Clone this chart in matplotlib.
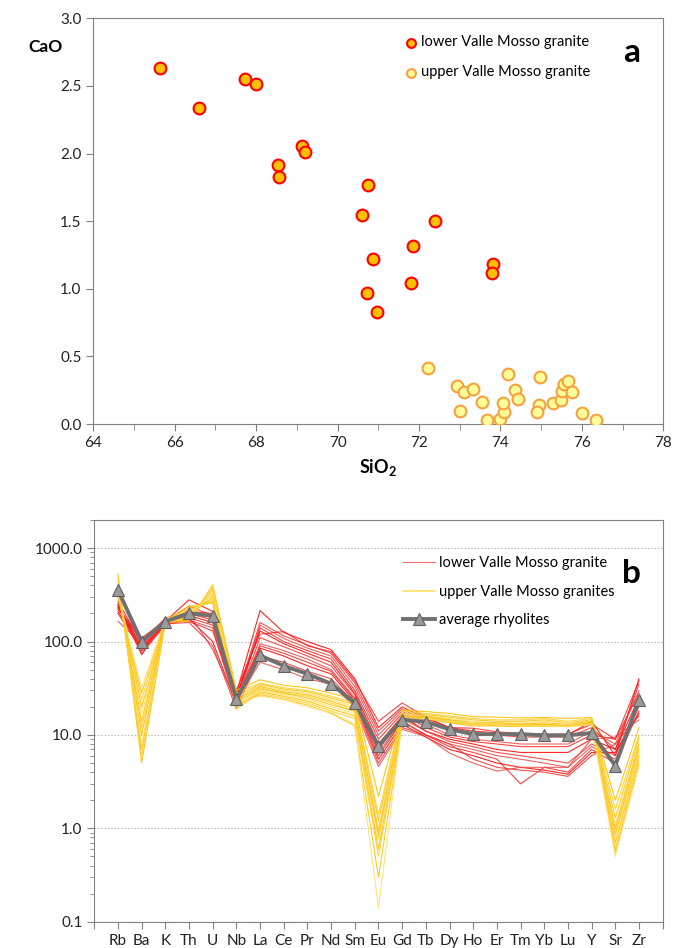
import numpy as np
import matplotlib
matplotlib.use('Agg')
import matplotlib.pyplot as plt
from matplotlib.ticker import MultipleLocator, LogLocator, FixedLocator, NullFormatter

plt.rcParams['font.family'] = ['Lato', 'DejaVu Sans']
plt.rcParams['mathtext.fontset'] = 'custom'
plt.rcParams['mathtext.rm'] = 'Lato'
plt.rcParams['mathtext.bf'] = 'Lato:bold'

# --- panel a: CaO vs SiO2 ---
lower_sio2 = [65.63, 66.60, 67.73, 67.99, 68.54, 68.55, 69.12, 69.20, 70.74, 70.59,
              72.40, 71.86, 70.86, 73.82, 73.79, 71.81, 70.72, 70.96]
lower_cao = [2.635, 2.34, 2.554, 2.513, 1.913, 1.827, 2.058, 2.01, 1.765, 1.544,
             1.501, 1.319, 1.22, 1.183, 1.117, 1.043, 0.967, 0.831]

upper_sio2 = [72.23, 72.94, 73.11, 73.32, 73.01, 73.55, 73.68, 74.00, 74.10, 74.07,
              74.18, 74.36, 74.42, 74.98, 74.96, 74.91, 75.30, 75.50, 75.52, 75.55,
              75.65, 75.77, 76.01, 76.35]
upper_cao = [0.412, 0.279, 0.234, 0.256, 0.098, 0.160, 0.030, 0.040, 0.086, 0.158,
             0.372, 0.254, 0.185, 0.350, 0.140, 0.089, 0.158, 0.178, 0.242, 0.298,
             0.318, 0.234, 0.084, 0.030]

# --- panel b: spider diagram ---
elements = ['Rb', 'Ba', 'K', 'Th', 'U', 'Nb', 'La', 'Ce', 'Pr', 'Nd', 'Sm', 'Eu',
            'Gd', 'Tb', 'Dy', 'Ho', 'Er', 'Tm', 'Yb', 'Lu', 'Y', 'Sr', 'Zr']

lower_vm = [
    [270, 95, 165, 280, 210, 28, 215, 125, 100, 82, 40, 12, 20, 15, 12, 11, 10.5, 10, 10, 10, 14, 6, 40],
    [250, 85, 160, 240, 190, 25, 160, 115, 92, 75, 36, 11, 19, 14, 11.5, 10.5, 10, 9.5, 9.5, 9.5, 12, 7, 35],
    [245, 80, 155, 220, 180, 24, 150, 108, 85, 70, 33, 10, 18, 13, 10, 9, 8.5, 8, 8, 8, 11, 8, 30],
    [240, 75, 150, 200, 170, 22, 140, 100, 80, 65, 30, 9, 17, 12, 9.5, 8.5, 8, 7.5, 7.5, 7.5, 10, 9, 28],
    [235, 90, 160, 190, 160, 26, 130, 95, 75, 60, 28, 8, 16, 11, 9, 8, 7, 6.5, 6.5, 6.5, 9, 7, 25],
    [230, 100, 170, 180, 150, 22, 110, 88, 70, 55, 27, 7, 15, 11, 8.5, 7.5, 6.5, 6, 5.5, 5, 8, 6, 22],
    [225, 105, 175, 170, 140, 20, 95, 80, 65, 50, 25, 6.5, 14, 10, 8, 7, 6, 5.5, 5, 4.5, 7.5, 5.5, 20],
    [220, 110, 165, 165, 130, 24, 90, 75, 60, 48, 24, 6, 14, 10, 7.5, 6.5, 5.5, 3.0, 4.5, 4.0, 7, 5, 18],
    [210, 85, 150, 175, 100, 21, 85, 70, 55, 45, 23, 5.5, 13, 9.5, 7, 6, 5, 4.5, 4.2, 3.8, 6.5, 6.5, 17],
    [200, 80, 155, 160, 90, 19, 70, 60, 48, 40, 22, 5, 12, 10, 8, 5.5, 4.5, 4.2, 4, 3.6, 6, 8, 16],
    [165, 95, 180, 200, 82, 23, 60, 50, 40, 35, 20, 4.6, 11.5, 9.6, 6.4, 5, 4.1, 4.5, 4.5, 4.5, 9, 9.5, 14.5],
    [255, 72, 170, 210, 200, 30, 120, 128, 90, 78, 38, 14, 22, 15.5, 12, 11.8, 10.8, 10.4, 10.2, 10.2, 13, 9, 38],
]

upper_vm = [
    [530, 5, 160, 165, 405, 30, 39, 34, 32, 28, 24, 2.2, 18.6, 17.8, 17, 15.7, 15.5, 15.2, 15.4, 15, 15.4, 2.0, 12],
    [480, 6, 165, 170, 380, 28, 36, 32, 30, 26, 22, 1.4, 18, 17, 16, 15, 14.5, 14.5, 15, 14, 15, 1.6, 10],
    [450, 7, 170, 175, 360, 26, 35, 31, 29, 25, 21, 1.2, 17, 16.5, 15.5, 14.5, 14, 14, 14.5, 13.5, 14.5, 1.3, 9.3],
    [420, 8, 160, 180, 340, 25, 34, 30, 28, 24, 20, 1.0, 16.5, 16, 15, 14, 13.5, 13.5, 14, 13.5, 14, 1.1, 8.5],
    [400, 10, 165, 185, 320, 24, 33, 29, 27, 23, 19, 0.9, 16, 15.5, 14.5, 13.5, 13.5, 13, 13.5, 13, 14, 1.0, 8],
    [380, 12, 170, 190, 300, 23, 32, 28, 26, 22, 18, 0.85, 15.5, 15, 14, 13.5, 13, 13, 13, 12.5, 13.5, 0.9, 7.5],
    [360, 14, 175, 200, 290, 22, 31, 28, 25, 21, 18, 0.8, 15, 15, 14, 13, 13, 12.5, 13, 12.5, 13.5, 0.85, 7],
    [340, 17, 170, 210, 280, 21, 30, 27, 24, 20, 17, 0.75, 15, 15, 13.5, 13, 12.5, 12.5, 12.5, 12.3, 13, 0.8, 6.5],
    [330, 20, 160, 220, 270, 20, 29, 26, 23, 19, 16, 0.6, 14.5, 15, 13.5, 12.5, 12.5, 12.3, 12.5, 12.3, 13, 0.7, 6],
    [310, 24, 165, 230, 265, 19, 28, 25, 22, 18, 15, 0.5, 14, 15.5, 14, 13, 13, 12.5, 12.3, 12.3, 13, 0.6, 5.5],
    [300, 28, 170, 240, 260, 21, 27, 24, 21, 17, 12.5, 0.3, 13.5, 16, 14.5, 13.5, 13, 13, 13, 12.5, 13.5, 0.55, 5],
    [320, 32, 175, 200, 310, 22, 26, 24, 20, 17.5, 13, 0.14, 14, 15, 14, 13.5, 13, 12.5, 12.5, 12.3, 13, 0.5, 4.6],
]

avg_rhyolites = [357, 100, 164, 201, 188, 24, 71, 55, 45, 35.4, 22, 7.6, 14.6, 13.8,
                 11.5, 10.2, 10.2, 10.2, 9.9, 9.9, 10.5, 4.7, 23.5]

axis_col = '#808080'

fig = plt.figure(figsize=(6.75, 9.48), dpi=100)

# ---------- panel a ----------
ax1 = fig.add_axes([0.1382, 0.5527, 0.8444, 0.428])
ax1.scatter(lower_sio2, lower_cao, s=72, c='#FFC000', edgecolors='#FF0000',
            linewidths=1.5, zorder=3, label='lower Valle Mosso granite')
ax1.scatter(upper_sio2, upper_cao, s=72, c='#FFFF99', edgecolors='#F8A040',
            linewidths=1.5, zorder=3, label='upper Valle Mosso granite')
ax1.set_xlim(64, 78)
ax1.set_ylim(0, 3)
ax1.xaxis.set_major_locator(MultipleLocator(2))
ax1.xaxis.set_minor_locator(MultipleLocator(1))
ax1.yaxis.set_major_locator(MultipleLocator(0.5))
ax1.yaxis.set_major_formatter(plt.FuncFormatter(lambda v, p: f'{v:.1f}'))
ax1.tick_params(which='both', direction='out', colors=axis_col, labelcolor='#222222',
                labelsize=11)
ax1.tick_params(which='major', length=5)
ax1.tick_params(which='minor', length=4)
for s in ax1.spines.values():
    s.set_color(axis_col)
ax1.text(-0.083, 0.93, 'CaO', transform=ax1.transAxes, fontsize=12.5,
         fontweight='bold', ha='center', va='center')
ax1.set_xlabel(r'$\mathbf{SiO_2}$', fontsize=13, labelpad=5)
ax1.text(0.945, 0.915, 'a', transform=ax1.transAxes, fontsize=24,
         fontweight='bold', ha='center', va='center')
ax1.legend(loc='upper left', bbox_to_anchor=(0.525, 0.983), frameon=False,
           fontsize=10.5, handletextpad=0.05, labelspacing=1.1, markerscale=0.75,
           handlelength=1.2, borderpad=0.2)

# ---------- panel b ----------
ax2 = fig.add_axes([0.1397, 0.0277, 0.842, 0.4237])
xpos = np.arange(1, len(elements) + 1)
red_cols = ['#FF0000', '#F03030', '#E84848', '#FF2020']
yel_cols = ['#FFC000', '#FFD030', '#F5C518', '#FFE070']
for i, row in enumerate(lower_vm):
    ax2.plot(xpos, row, color=red_cols[i % 4], lw=0.8, alpha=0.85, zorder=2,
             label='lower Valle Mosso granite' if i == 0 else None)
for i, row in enumerate(upper_vm):
    ax2.plot(xpos, row, color=yel_cols[i % 4], lw=0.8, alpha=0.9, zorder=2,
             label='upper Valle Mosso granites' if i == 0 else None)
ax2.plot(xpos, avg_rhyolites, color='#707070', lw=2.8, marker='^', markersize=9,
         markerfacecolor='#9A9A9A', markeredgecolor='#606060', markeredgewidth=0.8,
         zorder=4, label='average rhyolites')

ax2.set_yscale('log')
ax2.set_ylim(0.1, 2000)
ax2.set_xlim(0, len(elements) + 1)
ax2.xaxis.set_major_locator(FixedLocator(np.arange(0, len(elements) + 2)))
ax2.set_xticklabels([''] + elements + [''])
ax2.yaxis.set_major_locator(FixedLocator([0.1, 1, 10, 100, 1000]))
ax2.yaxis.set_major_formatter(plt.FuncFormatter(lambda v, p: f'{v:.1f}'))
ax2.yaxis.set_minor_locator(LogLocator(base=10, subs=np.arange(2, 10)))
ax2.yaxis.set_minor_formatter(NullFormatter())
ax2.grid(axis='y', which='major', color='#BFBFBF', ls=(0, (1.5, 1.5)), lw=0.8)
ax2.set_axisbelow(True)
ax2.tick_params(which='both', direction='out', colors=axis_col, labelcolor='#222222',
                labelsize=11)
ax2.tick_params(which='major', length=5)
ax2.tick_params(which='minor', length=3)
for s in ax2.spines.values():
    s.set_color(axis_col)
ax2.text(0.945, 0.866, 'b', transform=ax2.transAxes, fontsize=24,
         fontweight='bold', ha='center', va='center')
leg = ax2.legend(loc='upper left', bbox_to_anchor=(0.52, 0.943), frameon=False,
                 fontsize=10.5, handlelength=2.2, handletextpad=0.3, labelspacing=1.0)
leg_lines = leg.get_lines()
leg_lines[0].set_color('#F07070')
leg_lines[0].set_alpha(1)
leg_lines[1].set_color('#FFE060')
leg_lines[1].set_alpha(1)
leg_lines[1].set_linewidth(1.2)

fig.savefig('out.png', dpi=100)
